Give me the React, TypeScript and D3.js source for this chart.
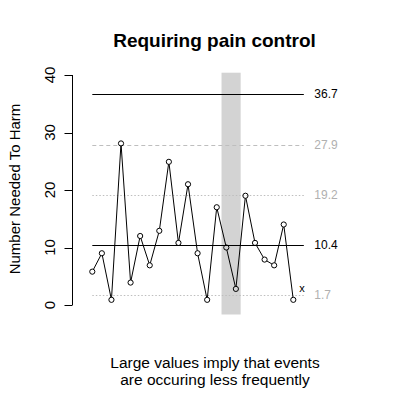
import { useRef, useEffect } from 'react';
import * as d3 from 'd3';

// Number needed to harm, one value per period
const nnhValues = [5.8, 9.0, 0.9, 28.1, 3.9, 12.0, 6.9, 12.9, 24.9, 10.8, 21.0, 9.0, 0.9, 17.0, 10.0, 2.8, 19.0, 10.8, 7.9, 6.9, 14.0, 0.9];

// Reference lines: value, label, style
const refValues = [36.7, 27.9, 19.2, 10.4, 1.7];
const refLabels = ['36.7', '27.9', '19.2', '10.4', '1.7'];
const refKinds = ['solid', 'dashed', 'dotted', 'solid', 'dotted'];

const yTicks = [0, 10, 20, 30, 40];

// shaded period (index range)
const bandStart = 14.5;
const bandEnd = 16.5;

export default function App() {
  const svgRef = useRef<SVGSVGElement>(null);

  useEffect(() => {
    if (!svgRef.current) return;
    const svg = d3.select(svgRef.current);
    svg.selectAll('*').remove();

    const font = '"Liberation Sans", Arial, Helvetica, sans-serif';

    const x = d3.scaleLinear().domain([1, 22]).range([92.3, 293.3]);
    const y = d3.scaleLinear().domain([0, 40]).range([305, 75]);

    const pts = nnhValues.map((v, i) => ({ i: i + 1, v }));

    // Shaded band
    svg.append('rect')
      .attr('x', x(bandStart))
      .attr('y', y(40.4))
      .attr('width', x(bandEnd) - x(bandStart))
      .attr('height', y(-1.65) - y(40.4))
      .attr('fill', '#d3d3d3');

    // Reference lines + labels
    refValues.forEach((v, k) => {
      const kind = refKinds[k];
      const col = kind === 'solid' ? '#000' : '#bebebe';
      svg.append('line')
        .attr('x1', x(1))
        .attr('x2', x(23.1))
        .attr('y1', Math.round(y(v)) + 0.5)
        .attr('y2', Math.round(y(v)) + 0.5)
        .attr('stroke', col)
        .attr('stroke-width', 1)
        .attr('stroke-dasharray', kind === 'dashed' ? '4,3' : kind === 'dotted' ? '1.5,2' : null);
      svg.append('text')
        .attr('x', x(24.2))
        .attr('y', y(v))
        .attr('dy', '0.35em')
        .attr('font-family', font)
        .attr('font-size', 12)
        .attr('fill', kind === 'solid' ? '#000' : '#b0b0b0')
        .text(refLabels[k]);
    });

    // Data line with gaps at points
    const r = 2.6;
    for (let k = 0; k < pts.length - 1; k++) {
      const x1 = x(pts[k].i), y1 = y(pts[k].v);
      const x2 = x(pts[k + 1].i), y2 = y(pts[k + 1].v);
      const len = Math.hypot(x2 - x1, y2 - y1);
      const ux = (x2 - x1) / len, uy = (y2 - y1) / len;
      svg.append('line')
        .attr('x1', x1 + ux * r)
        .attr('y1', y1 + uy * r)
        .attr('x2', x2 - ux * r)
        .attr('y2', y2 - uy * r)
        .attr('stroke', '#000')
        .attr('stroke-width', 1);
    }

    svg.append('g')
      .selectAll('circle')
      .data(pts)
      .join('circle')
      .attr('cx', (d) => x(d.i))
      .attr('cy', (d) => y(d.v))
      .attr('r', r)
      .attr('fill', 'none')
      .attr('stroke', '#000')
      .attr('stroke-width', 1);

    // "x" marker by last point
    const last = pts[pts.length - 1];
    svg.append('text')
      .attr('x', x(last.i) + 6)
      .attr('y', y(last.v) - 8)
      .attr('font-family', font)
      .attr('font-size', 11)
      .text('x');

    // Y axis
    const axisX = 72.5;
    const ax = svg.append('g').attr('transform', `translate(${axisX},0)`);
    ax.append('line')
      .attr('y1', y(0))
      .attr('y2', y(40))
      .attr('stroke', '#000');
    ax.selectAll('line.tick')
      .data(yTicks)
      .join('line')
      .attr('class', 'tick')
      .attr('x1', 0)
      .attr('x2', -8)
      .attr('y1', (d) => Math.round(y(d)) + 0.5)
      .attr('y2', (d) => Math.round(y(d)) + 0.5)
      .attr('stroke', '#000');
    ax.selectAll('text')
      .data(yTicks)
      .join('text')
      .attr('transform', (d) => `translate(-18,${y(d)}) rotate(-90)`)
      .attr('text-anchor', 'middle')
      .attr('font-family', font)
      .attr('font-size', 15)
      .text((d) => String(d));

    // Axis title
    svg.append('text')
      .attr('transform', `translate(20,189) rotate(-90)`)
      .attr('text-anchor', 'middle')
      .attr('font-family', font)
      .attr('font-size', 15)
      .text('Number Needed To Harm');

    // Title
    svg.append('text')
      .attr('x', 214.5)
      .attr('y', 46.5)
      .attr('text-anchor', 'middle')
      .attr('font-family', font)
      .attr('font-weight', 'bold')
      .attr('font-size', 19)
      .text('Requiring pain control');

    // Footnote
    const foot = ['Large values imply that events', 'are occuring less frequently'];
    svg.append('g')
      .selectAll('text')
      .data(foot)
      .join('text')
      .attr('x', 215)
      .attr('y', (_, i) => 367.5 + i * 17.5)
      .attr('text-anchor', 'middle')
      .attr('font-family', font)
      .attr('font-size', 15.5)
      .text((d) => d);
  }, []);

  return (
    <svg
      ref={svgRef}
      width={396}
      height={406}
      style={{ position: 'absolute', left: 0, top: 0, background: '#fff' }}
      role="img"
      aria-label="Requiring pain control NNH chart"
    />
  );
}
